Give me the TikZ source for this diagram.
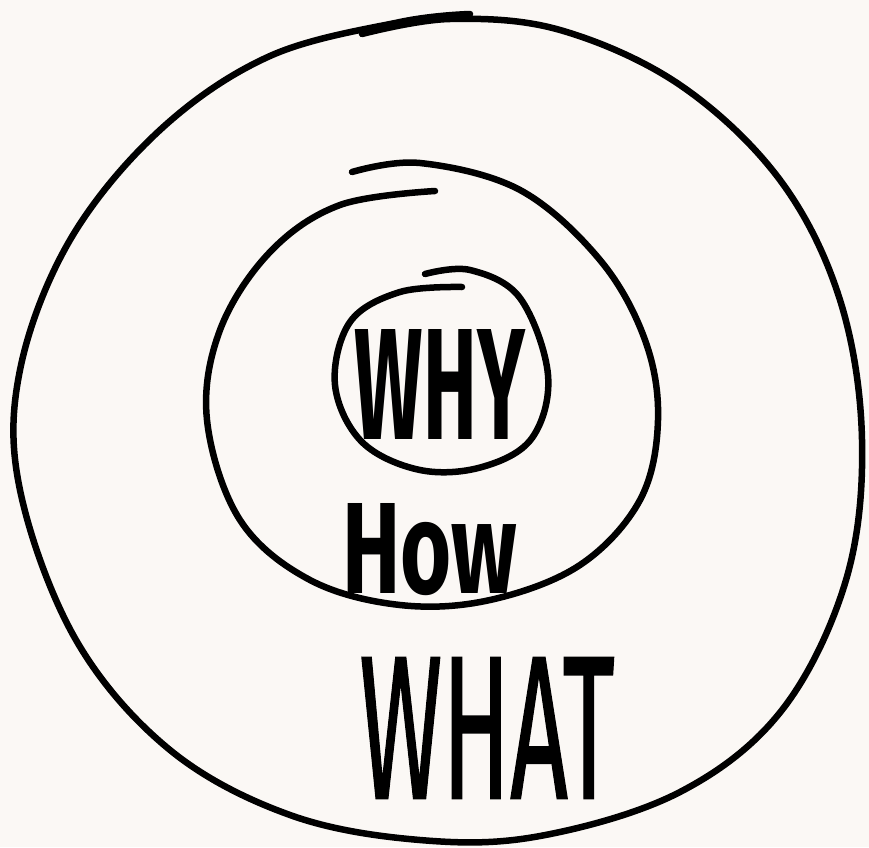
\documentclass[tikz,border=0pt]{standalone}
\usepackage{fontspec}
\setmainfont{Fira Sans}
\newfontfamily\whatfont[FakeBold=1.2]{Fira Sans}
\definecolor{paper}{HTML}{FBF8F5}
\begin{document}
\begin{tikzpicture}[x=0.2mm,y=-0.2mm,
  ring/.style={line width=1.3mm, line cap=round, line join=round},
  hand/.style={inner sep=0pt}]
\fill[paper] (0,0) rectangle (869,847);
\useasboundingbox (0,0) rectangle (869,847);
% outer ring (WHAT)
\draw[ring] plot[smooth, tension=0.6] coordinates {(362,34) (450,19) (560,30) (680,85) (780,180) (840,300) (862,440) (846,580) (782,710) (680,792) (540,836) (420,840) (290,815) (170,750) (76,640) (20,490) (20,370) (70,240) (160,130) (270,56) (400,22) (470,14)};
% middle ring (HOW)
\draw[ring] plot[smooth, tension=0.6] coordinates {(352,172) (420,163) (520,190) (600,260) (645,340) (658,420) (640,500) (580,565) (490,600) (400,605) (310,580) (240,520) (207,420) (220,330) (270,252) (340,205) (435,191)};
% inner ring (WHY)
\draw[ring] plot[smooth, tension=0.6] coordinates {(425,274) (470,270) (520,298) (548,375) (532,438) (482,467) (420,470) (362,442) (335,385) (350,322) (400,292) (462,287)};
% labels
\node[hand, font=\bfseries] (why) at (440,384) {\resizebox{34mm}{22mm}{WHY}};
\node[hand, font=\bfseries] (how) at (430,550) {\resizebox{35mm}{18mm}{How}};
\node[hand, font=\whatfont] (what) at (487,728) {\resizebox{51mm}{28mm}{WHAT}};
\end{tikzpicture}
\end{document}
